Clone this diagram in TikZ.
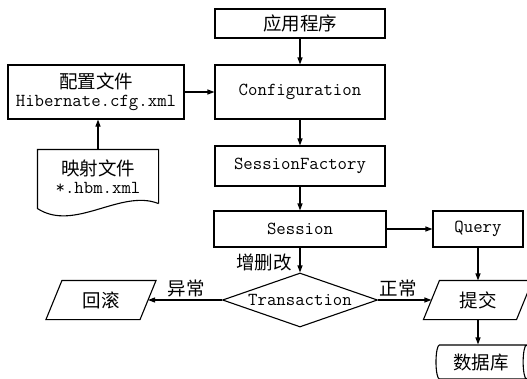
\documentclass[tikz,border=0pt]{standalone}
\usepackage{fontspec}
\newfontfamily\cjk{Noto Sans CJK SC}
\usetikzlibrary{arrows.meta,shapes.geometric,calc}

\begin{document}
\begin{tikzpicture}[x=1pt,y=-1pt,line width=1.1pt,
  lat/.style={font=\ttfamily\fontsize{18.3}{19}\selectfont},
  han/.style={font=\cjk\fontsize{18.5}{20}\selectfont},
  box/.style={draw,rectangle,inner sep=0pt},
  slanted/.style={rectangle,inner sep=0pt,minimum height=38pt},
  arr/.style={-{Triangle[length=7pt,width=5pt]}},
  lbl/.style={han,inner sep=0pt}]
\useasboundingbox (0,0) rectangle (527,378);

% main chain
\node[box,han,minimum width=170pt,minimum height=29pt] (app) at (300,23.5) {应用程序};
\node[box,lat,minimum width=170pt,minimum height=54pt] (cfg) at (300,92) {Configuration};
\node[box,lat,minimum width=170pt,minimum height=40pt] (sf) at (300,166) {SessionFactory};
\node[box,lat,minimum width=172pt,minimum height=36pt] (sess) at (300,229) {Session};
\node[box,lat,minimum width=90pt,minimum height=36pt] (query) at (478,229) {Query};

% configuration file
\node[box,minimum width=176pt,minimum height=54pt,align=center,lat] (conf) at (96,92)
  {{\cjk\fontsize{18.5}{18}\selectfont 配置文件}\\[-1pt]Hibernate.cfg.xml};

% mapping file (document shape)
\node[rectangle,inner sep=0pt,minimum width=120pt,minimum height=53pt,align=center,lat] (map) at (98,176.5)
  {{\cjk\fontsize{18.5}{18}\selectfont 映射文件}\\[-1pt]*.hbm.xml};
\draw (map.south east) -- (map.north east) -- (map.north west) -- ($(map.south west)+(0,5)$)
  .. controls +(37,24) and +(-38,-15) .. (map.south east);

% transaction decision
\node[draw,diamond,aspect=2.87,inner sep=0pt,minimum width=155pt,minimum height=54pt,lat] (tx) at (300,300) {Transaction};

% rollback / commit
\node[slanted,han,minimum width=93pt] (rb) at (101,300) {回滚};
\draw ($(rb.north west)+(8,0)$) -- ($(rb.north east)+(8,0)$) -- ($(rb.south east)+(-8,0)$) -- ($(rb.south west)+(-8,0)$) -- cycle;
\node[slanted,han,minimum width=92pt] (tj) at (478,300) {提交};
\draw ($(tj.north west)+(8,0)$) -- ($(tj.north east)+(8,0)$) -- ($(tj.south east)+(-8,0)$) -- ($(tj.south west)+(-8,0)$) -- cycle;

% database
\node[draw,cylinder,aspect=0.4,inner sep=0pt,minimum height=94pt,minimum width=34pt,han] (db) at (481,362) {数据库};

% connectors
\draw[arr] (app) -- (cfg);
\draw[arr] (conf) -- (cfg);
\draw[arr] (map.north) -- (map.north |- conf.south);
\draw[arr] (cfg) -- (sf);
\draw[arr] (sf) -- (sess);
\draw[arr] (sess) -- (query);
\draw[arr] (sess) -- (tx);
\draw[arr] (query) -- (tj);
\draw[arr] (tx) -- (rb);
\draw[arr] (tx) -- (tj);
\draw[arr] (tj.south) -- (tj.south |- db.north);

% labels
\node[lbl] (l1) at (264,262) {增删改};
\node[lbl] (l2) at (186,288) {异常};
\node[lbl] (l3) at (398,288) {正常};
\end{tikzpicture}
\end{document}
